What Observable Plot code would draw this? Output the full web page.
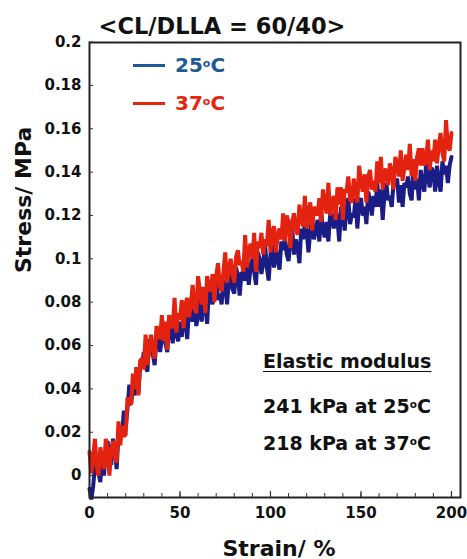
<!DOCTYPE html>
<html>
<head>
<meta charset="utf-8">
<script src="https://cdn.jsdelivr.net/npm/d3@7"></script>
<script src="https://cdn.jsdelivr.net/npm/@observablehq/plot@0.6"></script>
<style>
  html, body { margin: 0; padding: 0; background: #fff; }
  #wrap { position: relative; width: 467px; height: 559px; font-family: "DejaVu Sans", sans-serif; font-weight: bold; }
  #title { height: 30px; width: 444px; text-align: center; font-size: 22.5px; line-height: 22px; padding-top: 15px; box-sizing: border-box; color: #111; white-space: nowrap; }
  .leg { position: absolute; left: 133px; display: flex; align-items: center; font-size: 20px; }
  .leg .sw { width: 32px; height: 3px; margin-right: 10px; }
  .leg sup, .note sup { font-size: 0.55em; vertical-align: 0.45em; }
  .note { position: absolute; left: 263px; font-size: 19px; color: #111; white-space: nowrap; }
  svg { display: block; }
</style>
</head>
<body>
<div id="wrap">
  <div id="title"></div>
  <div id="chart"></div>
</div>
<script>
// ---- data ----
const titleText = "<CL/DLLA = 60/40>";
const seriesNames = ["25", "37"];            // temperatures, °C
const seriesColors = ["#1b1d86", "#e3230f"];
const legendColors = ["#1f5a96", "#e8250c"];
const moduli = ["241", "218"];                // elastic modulus, kPa

const strain = d3.range(0, 201, 1);           // strain, %

const stress25 = [
 -0.006,-0.011,-0.005,0.004,0.009,0.001,-0.003,0.011,0.000,0.011,
 0.016,0.007,0.005,0.017,0.012,0.003,0.019,0.021,0.019,0.030,
 0.022,0.031,0.042,0.033,0.041,0.037,0.050,0.038,0.051,0.050,
 0.057,0.050,0.048,0.063,0.058,0.056,0.051,0.063,0.067,0.057,
 0.063,0.070,0.061,0.057,0.070,0.068,0.061,0.075,0.065,0.062,
 0.071,0.064,0.076,0.070,0.063,0.077,0.075,0.071,0.082,0.069,
 0.074,0.082,0.071,0.081,0.079,0.070,0.086,0.083,0.079,0.087,
 0.091,0.081,0.084,0.079,0.090,0.088,0.079,0.090,0.094,0.086,
 0.084,0.096,0.092,0.083,0.094,0.092,0.090,0.101,0.088,0.096,
 0.100,0.094,0.088,0.103,0.100,0.093,0.098,0.107,0.096,0.090,
 0.102,0.107,0.096,0.105,0.100,0.095,0.108,0.104,0.110,0.102,
 0.099,0.109,0.114,0.102,0.109,0.105,0.098,0.114,0.109,0.116,
 0.113,0.103,0.113,0.118,0.109,0.113,0.118,0.108,0.122,0.113,
 0.110,0.117,0.108,0.121,0.120,0.114,0.123,0.118,0.108,0.124,
 0.121,0.113,0.123,0.128,0.116,0.121,0.119,0.128,0.114,0.126,
 0.128,0.120,0.124,0.116,0.131,0.127,0.120,0.129,0.124,0.135,
 0.124,0.132,0.118,0.130,0.135,0.127,0.129,0.124,0.135,0.134,
 0.137,0.126,0.134,0.124,0.135,0.133,0.138,0.130,0.127,0.142,
 0.132,0.137,0.127,0.141,0.135,0.131,0.144,0.138,0.133,0.142,
 0.140,0.131,0.143,0.136,0.131,0.145,0.139,0.143,0.135,0.143,
 0.147
];

const stress37 = [
 0.011,0.001,0.008,0.017,0.004,0.000,0.013,0.008,0.003,0.017,
 0.012,0.000,0.012,0.016,0.009,0.006,0.025,0.014,0.023,0.018,
 0.019,0.036,0.033,0.033,0.047,0.040,0.050,0.037,0.053,0.054,
 0.049,0.065,0.051,0.058,0.065,0.058,0.054,0.069,0.066,0.063,
 0.074,0.062,0.071,0.058,0.074,0.070,0.068,0.082,0.066,0.075,
 0.072,0.081,0.068,0.079,0.082,0.073,0.079,0.088,0.077,0.075,
 0.092,0.085,0.079,0.087,0.075,0.092,0.087,0.085,0.093,0.080,
 0.092,0.098,0.088,0.085,0.094,0.103,0.089,0.095,0.100,0.093,
 0.089,0.101,0.104,0.097,0.099,0.094,0.111,0.096,0.104,0.107,
 0.100,0.112,0.094,0.108,0.105,0.112,0.102,0.109,0.106,0.118,
 0.103,0.113,0.115,0.103,0.111,0.114,0.109,0.121,0.108,0.120,
 0.117,0.105,0.117,0.121,0.114,0.111,0.125,0.118,0.115,0.129,
 0.114,0.122,0.126,0.113,0.124,0.122,0.120,0.128,0.117,0.132,
 0.126,0.121,0.135,0.120,0.126,0.129,0.118,0.133,0.125,0.133,
 0.118,0.132,0.131,0.138,0.127,0.126,0.137,0.132,0.126,0.143,
 0.135,0.131,0.139,0.126,0.138,0.141,0.132,0.136,0.131,0.145,
 0.135,0.147,0.132,0.141,0.141,0.134,0.144,0.140,0.132,0.147,
 0.144,0.138,0.150,0.136,0.142,0.148,0.141,0.153,0.138,0.146,
 0.136,0.147,0.151,0.143,0.151,0.143,0.146,0.155,0.141,0.150,
 0.145,0.155,0.144,0.152,0.158,0.149,0.145,0.164,0.152,0.150,
 0.158
];

const xTicks = [0, 50, 100, 150, 200];
const xMinorTicks = [0, 10, 20, 30, 40, 50, 60, 70, 80, 90, 100, 110, 120, 130, 140, 150, 160, 170, 180, 190, 200];
const yTicks = [0, 0.02, 0.04, 0.06, 0.08, 0.1, 0.12, 0.14, 0.16, 0.18, 0.2];
const xLabel = "Strain/ %";
const yLabel = "Stress/ MPa";
const noteHeader = "Elastic modulus";

// ---- build ----
document.getElementById("title").textContent = titleText;

const rows25 = strain.map((s, i) => ({strain: s, stress: stress25[i], T: seriesNames[0]}));
const rows37 = strain.map((s, i) => ({strain: s, stress: stress37[i], T: seriesNames[1]}));

const W = 467, H = 529;
const mL = 89, mR = 7, mT = 12, mB = 62;
const fw = W - mL - mR, fh = H - mT - mB;

const chart = Plot.plot({
  width: W, height: H,
  marginLeft: mL, marginRight: mR, marginTop: mT, marginBottom: mB,
  style: {fontFamily: "DejaVu Sans, sans-serif", fontWeight: "bold", fontSize: "15px", color: "#111", background: "#fff"},
  x: {domain: [0, 205]},
  y: {domain: [-0.0101, 0.1998]},
  marks: [
    Plot.line(rows25, {x: "strain", y: "stress", stroke: seriesColors[0], strokeWidth: 4, strokeLinejoin: "miter"}),
    Plot.line(rows37, {x: "strain", y: "stress", stroke: seriesColors[1], strokeWidth: 4, strokeLinejoin: "miter"}),
    Plot.frame({stroke: "#222", strokeWidth: 2}),
    Plot.tickX(xMinorTicks, {x: d => d, insetTop: fh - 4, stroke: "#333", strokeWidth: 1}),
    Plot.tickX(xTicks, {x: d => d, insetTop: fh - 6, stroke: "#333", strokeWidth: 1.2}),
    Plot.tickY(yTicks, {y: d => d, insetRight: fw - 4, stroke: "#333", strokeWidth: 1}),
    Plot.axisX({ticks: xTicks, tickSize: 0, tickPadding: 10, label: null, fontSize: 15}),
    Plot.axisY({ticks: yTicks, tickSize: 0, tickPadding: 8, label: null, fontSize: 15,
                tickFormat: d => String(+d.toFixed(2))}),
    Plot.text([xLabel], {frameAnchor: "bottom", text: d => d, dx: 4, dy: 58, fontSize: 22, fontWeight: "bold", fill: "#111"}),
    Plot.text([yLabel], {frameAnchor: "left", text: d => d, rotate: -90, dx: -66, dy: 3, fontSize: 22, fontWeight: "bold", fill: "#111"})
  ]
});
document.getElementById("chart").appendChild(chart);

// legend
const wrap = document.getElementById("wrap");
const legTops = [53, 91];
seriesNames.forEach((t, i) => {
  const d = document.createElement("div");
  d.className = "leg";
  d.style.top = legTops[i] + "px";
  d.style.color = legendColors[i];
  d.innerHTML = `<span class="sw" style="background:${legendColors[i]}"></span><span>${t}<sup>o</sup>C</span>`;
  wrap.appendChild(d);
});

// annotation
const notes = [
  {html: `<span style="text-decoration:underline;text-underline-offset:3px">${noteHeader}</span>`, top: 350},
  {html: `${moduli[0]} kPa at ${seriesNames[0]}<sup>o</sup>C`, top: 395},
  {html: `${moduli[1]} kPa at ${seriesNames[1]}<sup>o</sup>C`, top: 432}
];
notes.forEach(n => {
  const d = document.createElement("div");
  d.className = "note";
  d.style.top = n.top + "px";
  d.innerHTML = n.html;
  wrap.appendChild(d);
});
</script>
</body>
</html>
